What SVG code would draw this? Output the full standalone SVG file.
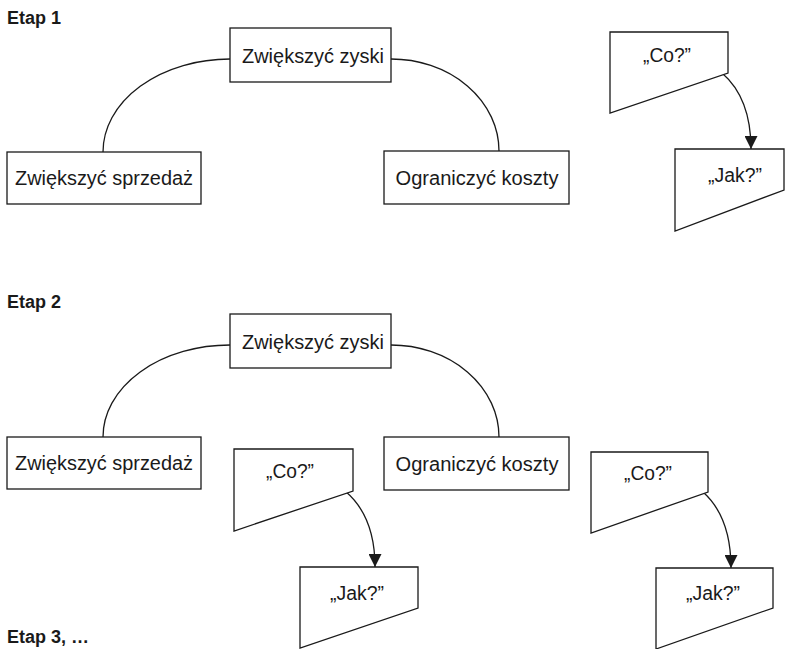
<svg xmlns="http://www.w3.org/2000/svg" width="785" height="649" viewBox="0 0 785 649">
  <defs>
    <style>
      .box { fill: #fff; stroke: #1a1a1a; stroke-width: 1.3; }
      .link { fill: none; stroke: #1a1a1a; stroke-width: 1.3; }
      .lbl { font-family: "Liberation Sans", Arial, sans-serif; font-size: 20px; fill: #1a1a1a; text-anchor: middle; }
      .head { font-family: "Liberation Sans", Arial, sans-serif; font-size: 18px; font-weight: bold; fill: #1a1a1a; }
    </style>
    <marker id="arrow" markerUnits="userSpaceOnUse" markerWidth="13" markerHeight="13" refX="12" refY="6" orient="auto" viewBox="0 0 12 12">
      <path d="M0,0 L12,6 L0,12 z" fill="#1a1a1a"/>
    </marker>
  </defs>
  <rect width="785" height="649" fill="#fff"/>

  <!-- Stage headings -->
  <text class="head" x="7" y="24">Etap 1</text>
  <text class="head" x="7" y="308">Etap 2</text>
  <text class="head" x="7" y="643">Etap 3, …</text>

  <!-- Connectors -->
  <g id="connectors">
    <path class="link" d="M230,59 A127,93 0 0 0 103,152"/>
    <path class="link" d="M391,59 A108,92 0 0 1 499,151"/>
    <path class="link" d="M722,73 Q751,98 751,149" marker-end="url(#arrow)"/>

    <path class="link" d="M230,345 A127,92 0 0 0 103,437"/>
    <path class="link" d="M391,345 A108,92 0 0 1 499,437"/>
    <path class="link" d="M345,491 Q375,516 375,567" marker-end="url(#arrow)"/>
    <path class="link" d="M703,492 Q731,517 731,568" marker-end="url(#arrow)"/>
  </g>

  <!-- Stage 1 -->
  <g id="s1-zyski">
    <rect class="box" x="230" y="28" width="161" height="54"/>
    <text class="lbl" x="313" y="63" textLength="142" lengthAdjust="spacingAndGlyphs">Zwiększyć zyski</text>
  </g>
  <g id="s1-sprzedaz">
    <rect class="box" x="7" y="152" width="194" height="52"/>
    <text class="lbl" x="104" y="185" textLength="178" lengthAdjust="spacingAndGlyphs">Zwiększyć sprzedaż</text>
  </g>
  <g id="s1-koszty">
    <rect class="box" x="384" y="151" width="185" height="53"/>
    <text class="lbl" x="477" y="185" textLength="163" lengthAdjust="spacingAndGlyphs">Ograniczyć koszty</text>
  </g>
  <g id="s1-co">
    <polygon class="box" points="610,32 728,32 728,73 610,113"/>
    <text class="lbl" x="667" y="62" textLength="48" lengthAdjust="spacingAndGlyphs">„Co?”</text>
  </g>
  <g id="s1-jak">
    <polygon class="box" points="675,149 784,149 784,190 675,231"/>
    <text class="lbl" x="735" y="182" textLength="54" lengthAdjust="spacingAndGlyphs">„Jak?”</text>
  </g>

  <!-- Stage 2 -->
  <g id="s2-zyski">
    <rect class="box" x="230" y="314" width="161" height="54"/>
    <text class="lbl" x="313" y="349" textLength="142" lengthAdjust="spacingAndGlyphs">Zwiększyć zyski</text>
  </g>
  <g id="s2-sprzedaz">
    <rect class="box" x="7" y="437" width="194" height="52"/>
    <text class="lbl" x="104" y="470" textLength="178" lengthAdjust="spacingAndGlyphs">Zwiększyć sprzedaż</text>
  </g>
  <g id="s2-koszty">
    <rect class="box" x="384" y="437" width="185" height="53"/>
    <text class="lbl" x="477" y="471" textLength="163" lengthAdjust="spacingAndGlyphs">Ograniczyć koszty</text>
  </g>
  <g id="s2a-co">
    <polygon class="box" points="234,449 353,449 353,491 234,531"/>
    <text class="lbl" x="290" y="478" textLength="48" lengthAdjust="spacingAndGlyphs">„Co?”</text>
  </g>
  <g id="s2a-jak">
    <polygon class="box" points="300,567 418,567 418,608 300,648"/>
    <text class="lbl" x="357" y="600" textLength="54" lengthAdjust="spacingAndGlyphs">„Jak?”</text>
  </g>
  <g id="s2b-co">
    <polygon class="box" points="591,452 708,452 708,492 591,533"/>
    <text class="lbl" x="648" y="480" textLength="48" lengthAdjust="spacingAndGlyphs">„Co?”</text>
  </g>
  <g id="s2b-jak">
    <polygon class="box" points="656,568 773,568 773,608 656,649"/>
    <text class="lbl" x="713" y="600" textLength="54" lengthAdjust="spacingAndGlyphs">„Jak?”</text>
  </g>
</svg>
